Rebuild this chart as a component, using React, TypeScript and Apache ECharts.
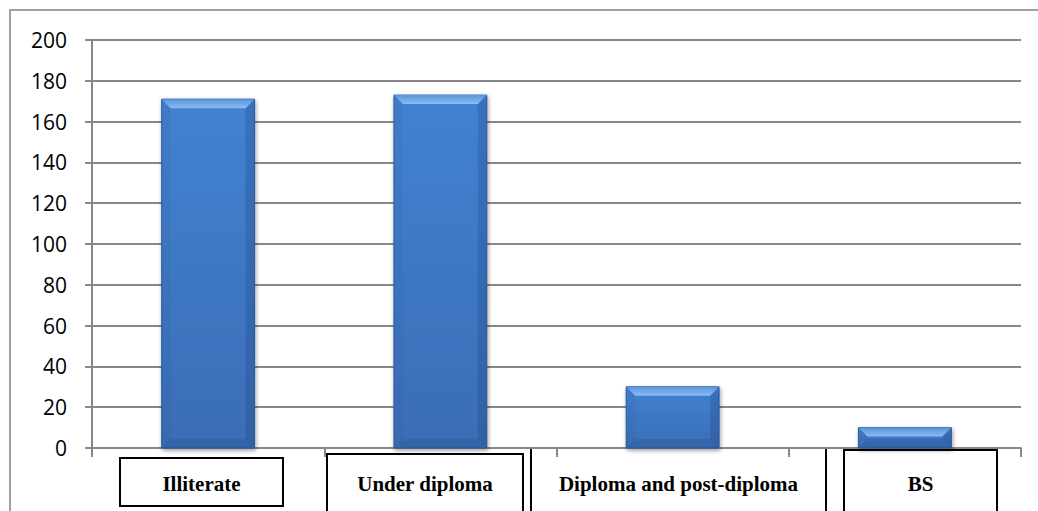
import React, { useEffect, useRef } from "react";
import * as echarts from "echarts";

// Education level of respondents
const categories = ["Illiterate", "Under diploma", "Diploma and post-diploma", "BS"];
const counts = [171, 173, 30, 10];

// y axis scale
const yMin = 0;
const yMax = 200;
const yStep = 20;

// boxed category captions under the axis (layout only)
const captionBoxes = [
  { x: 120, y: 458, w: 163, h: 48 },
  { x: 327, y: 454, w: 196, h: 70 },
  { x: 531, y: 448, w: 295, h: 80 },
  { x: 844, y: 450, w: 153, h: 80 },
];

const GRID_COLOR = "#888888";

function renderBevelBar(params: any, api: any) {
  const idx = api.value(0);
  const val = api.value(1);
  const top = api.coord([idx, val]);
  const base = api.coord([idx, 0]);
  const band = api.size([1, 0])[0];
  const w = band * 0.4;
  const x0 = top[0] - w / 2;
  const x1 = top[0] + w / 2;
  const y0 = top[1];
  const y1 = base[1];
  const h = y1 - y0;
  const b = Math.min(9, h / 2.2);
  return {
    type: "group",
    children: [
      {
        type: "rect",
        shape: { x: x0, y: y0, width: w, height: h },
        style: {
          fill: new echarts.graphic.LinearGradient(0, 0, 0, 1, [
            { offset: 0, color: "#4282d2" },
            { offset: 1, color: "#3a6db5" },
          ]),
          stroke: "#2f5d9c",
          lineWidth: 1,
          shadowBlur: 4,
          shadowOffsetX: 1,
          shadowOffsetY: 2,
          shadowColor: "rgba(0,0,0,0.4)",
        },
      },
      {
        type: "polygon",
        shape: { points: [[x0, y0], [x0 + b, y0 + b], [x0 + b, y1 - b], [x0, y1]] },
        style: { fill: "rgba(40,80,140,0.1)" },
      },
      {
        type: "polygon",
        shape: { points: [[x1, y0], [x1 - b, y0 + b], [x1 - b, y1 - b], [x1, y1]] },
        style: { fill: "rgba(25,55,110,0.22)" },
      },
      {
        type: "polygon",
        shape: { points: [[x0, y1], [x0 + b, y1 - b], [x1 - b, y1 - b], [x1, y1]] },
        style: { fill: "rgba(30,60,115,0.2)" },
      },
      {
        type: "polygon",
        shape: { points: [[x0, y0], [x1, y0], [x1 - b, y0 + b], [x0 + b, y0 + b]] },
        style: {
          fill: new echarts.graphic.LinearGradient(0, 0, 0, 1, [
            { offset: 0, color: "#5a94dc" },
            { offset: 1, color: "#8abcf1" },
          ]),
        },
      },
    ],
  };
}

export default function App() {
  const ref = useRef<HTMLDivElement>(null);

  useEffect(() => {
    document.body.style.margin = "0";
    const chart = echarts.init(ref.current!, null, { renderer: "svg" });

    const captionGraphics = captionBoxes.map((box, i) => ({
      type: "group",
      children: [
        {
          type: "rect",
          shape: { x: box.x, y: box.y, width: box.w, height: box.h },
          style: { fill: "#ffffff", stroke: "#000000", lineWidth: 2 },
        },
        {
          type: "text",
          x: box.x + box.w / 2,
          y: 484,
          style: {
            text: categories[i],
            fill: "#000000",
            font: "bold 21px 'Liberation Serif', 'Times New Roman', serif",
            textAlign: "center",
            textVerticalAlign: "middle",
          },
        },
      ],
    }));

    chart.setOption({
      animation: false,
      backgroundColor: "#ffffff",
      grid: { left: 92, right: 17, top: 40, bottom: 63, containLabel: false },
      xAxis: {
        type: "category",
        data: categories,
        boundaryGap: true,
        axisLine: { show: true, lineStyle: { color: GRID_COLOR, width: 2 } },
        axisTick: { show: true, length: 9, lineStyle: { color: GRID_COLOR, width: 2 } },
        axisLabel: { show: false },
        splitLine: { show: false },
      },
      yAxis: {
        type: "value",
        min: yMin,
        max: yMax,
        interval: yStep,
        axisLine: { show: true, lineStyle: { color: GRID_COLOR, width: 2 } },
        axisTick: { show: true, length: 7, lineStyle: { color: GRID_COLOR, width: 2 } },
        axisLabel: {
          margin: 25,
          color: "#000000",
          fontSize: 21,
          fontFamily: "'Open Sans', Lato, sans-serif",
        },
        splitLine: { show: true, lineStyle: { color: GRID_COLOR, width: 2 } },
      },
      series: [
        {
          type: "custom",
          renderItem: renderBevelBar,
          encode: { x: 0, y: 1 },
          data: counts.map((v, i) => [i, v]),
          z: 3,
        },
      ],
      graphic: [
        {
          type: "rect",
          shape: { x: 10, y: 10, width: 1040, height: 520 },
          style: { fill: "none", stroke: "#a0a0a0", lineWidth: 2 },
          z: 0,
          silent: true,
        },
        ...captionGraphics,
      ],
    });

    return () => chart.dispose();
  }, []);

  return (
    <div
      ref={ref}
      style={{ width: 1038, height: 511, position: "absolute", left: 0, top: 0 }}
    />
  );
}
